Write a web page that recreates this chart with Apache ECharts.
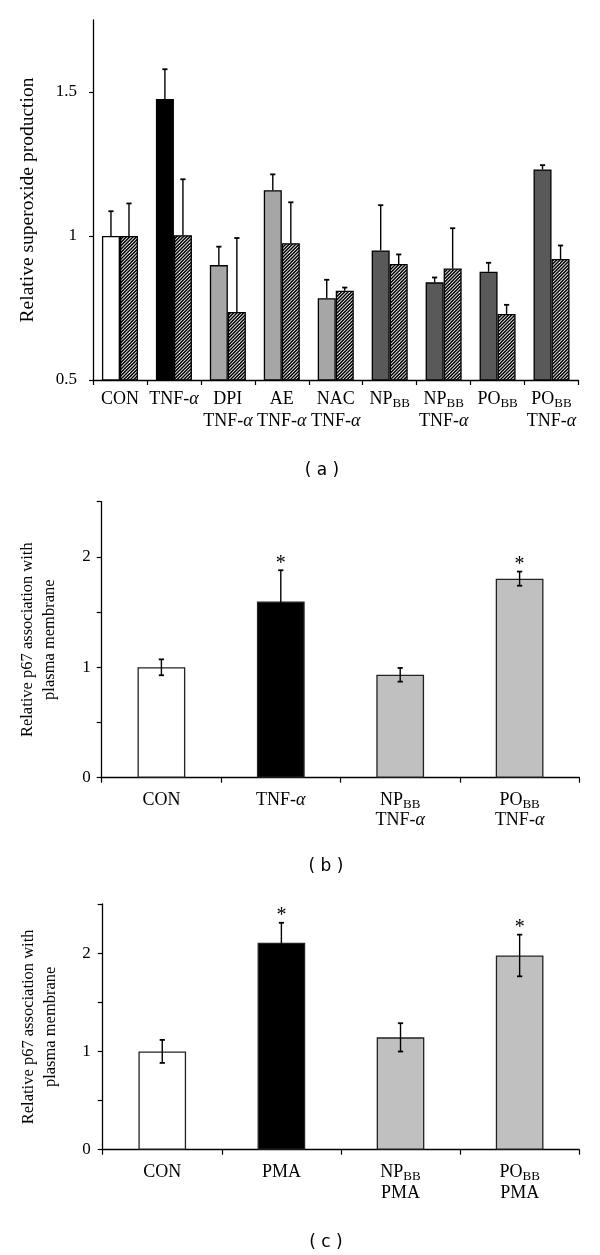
<!DOCTYPE html>
<html><head><meta charset="utf-8">
<script src="https://cdn.jsdelivr.net/npm/echarts@6/dist/echarts.min.js"></script>
<style>html,body{margin:0;padding:0;background:#fff}#c{width:600px;height:1255px}</style>
</head><body><div id="c"></div>
<script>
// ---------- data ----------
const catsA = ['CON','TNF-α','DPI\nTNF-α','AE\nTNF-α','NAC\nTNF-α','NP_BB','NP_BB\nTNF-α','PO_BB','PO_BB\nTNF-α'];
const solidA = [1.000, 1.476, 0.899, 1.159, 0.784, 0.950, 0.839, 0.876, 1.231];
const solidErrA = [0.086, 0.103, 0.064, 0.055, 0.064, 0.157, 0.017, 0.031, 0.015];
const hatchA = [1.000, 1.003, 0.736, 0.975, 0.810, 0.903, 0.887, 0.729, 0.920];
const hatchErrA = [0.113, 0.194, 0.257, 0.142, 0.011, 0.033, 0.140, 0.032, 0.047];
const ticksA = [0.5, 1, 1.5];

const catsB = ['CON','TNF-α','NP_BB\nTNF-α','PO_BB\nTNF-α'];
const valB = [1.00, 1.595, 0.932, 1.803];
const errB = [0.072, 0.284, 0.062, 0.064];
const sigB = [false, true, false, true];

const catsC = ['CON','PMA','NP_BB\nPMA','PO_BB\nPMA'];
const valC = [1.00, 2.105, 1.143, 1.976];
const errC = [0.117, 0.204, 0.144, 0.212];
const sigC = [false, true, false, true];
const ticksBC = [0, 1, 2];

// ---------- styles ----------
const colorsA = ['#ffffff','#000000','#a6a6a6','#a6a6a6','#a6a6a6','#595959','#595959','#595959','#595959'];
const colorsBC = ['#ffffff','#000000','#c0c0c0','#c0c0c0'];
const SERIF = '"Liberation Serif", "Times New Roman", serif';

function hatchPattern() {
  const s = 10, c = document.createElement('canvas');
  c.width = s; c.height = s;
  const g = c.getContext('2d');
  g.fillStyle = '#fff'; g.fillRect(0, 0, s, s);
  g.strokeStyle = '#000'; g.lineWidth = 1.5;
  const d = s / 3;
  for (let k = -1; k <= 7; k++) {
    const cc = k * d;
    g.beginPath(); g.moveTo(cc - s, s); g.lineTo(cc + s, -s); g.stroke();
  }
  // ensure lines x+y=c
  g.clearRect(0,0,0,0);
  return c;
}
function hatch2() {
  const s = 10, c = document.createElement('canvas');
  c.width = s; c.height = s;
  const g = c.getContext('2d');
  g.fillStyle = '#fff'; g.fillRect(0, 0, s, s);
  g.strokeStyle = '#000'; g.lineWidth = 1.5;
  const d = s / 3;
  for (let k = 0; k <= 6; k++) {
    const cc = k * d; // line x + y = cc
    g.beginPath(); g.moveTo(cc + 2, -2); g.lineTo(cc - s - 2, s + 2); g.stroke();
  }
  return c;
}
const hatchImg = hatch2();

function fmtCat(v) {
  return v.split('\n').map(line =>
    line.replace(/_BB/g, '{s|BB}').replace(/α/g, '{i|α}')
  ).join('\n');
}
function richFor(lh) {
  return {
    s: { fontFamily: SERIF, fontSize: 13, color: '#000', lineHeight: 14, verticalAlign: 'bottom' },
    i: { fontFamily: SERIF, fontSize: 18, fontStyle: 'italic', color: '#000', lineHeight: lh }
  };
}

function xAxisDef(gi, cats, margin, lh) {
  return {
    type: 'category', gridIndex: gi, data: cats,
    axisLine: { lineStyle: { color: '#000', width: 1.3 } },
    axisTick: { show: true, length: 5, interval: 0, lineStyle: { color: '#000', width: 1.2 } },
    axisLabel: { interval: 0, margin: margin, fontFamily: SERIF, fontSize: 18, color: '#000',
      lineHeight: lh, formatter: fmtCat, rich: richFor(lh) },
    splitLine: { show: false }
  };
}

function errSeries(xi, vals, errs, off, sym, sig) {
  return {
    type: 'custom', xAxisIndex: xi, yAxisIndex: xi, z: 5, silent: true,
    data: vals.map((v, i) => [i, v, errs[i], sig && sig[i] ? 1 : 0]),
    renderItem(params, api) {
      const i = api.value(0), v = api.value(1), e = api.value(2);
      const band = api.size([1, 0])[0];
      const top = api.coord([i, v + e]);
      const bot = api.coord([i, sym ? v - e : v]);
      const x = top[0] + band * off;
      const cap = 2.6;
      const st = { stroke: '#000', lineWidth: 1.4 };
      const ch = [
        { type: 'line', shape: { x1: x, y1: bot[1], x2: x, y2: top[1] }, style: st },
        { type: 'line', shape: { x1: x - cap, y1: top[1], x2: x + cap, y2: top[1] }, style: { stroke: '#000', lineWidth: 1.8 } }
      ];
      if (sym) ch.push({ type: 'line', shape: { x1: x - cap, y1: bot[1], x2: x + cap, y2: bot[1] }, style: { stroke: '#000', lineWidth: 1.8 } });
      if (api.value(3)) ch.push({ type: 'text', style: { text: '*', x: x, y: top[1] + 3, textAlign: 'center', textVerticalAlign: 'bottom', fontFamily: SERIF, fontSize: 20, fill: '#000' } });
      return { type: 'group', children: ch };
    }
  };
}

const chart = echarts.init(document.getElementById('c'), null, { renderer: 'canvas' });
const yName = { fontFamily: SERIF, color: '#000' };

chart.setOption({
  animation: false,
  backgroundColor: '#fff',
  grid: [
    { left: 93, top: 20, width: 485.5, height: 360 },
    { left: 101.7, top: 501.7, width: 477.6, height: 276 },
    { left: 102.7, top: 904, width: 476.5, height: 245.7 }
  ],
  xAxis: [
    xAxisDef(0, catsA, 8, 22),
    xAxisDef(1, catsB, 13, 20),
    xAxisDef(2, catsC, 12, 21)
  ],
  yAxis: [
    { type: 'value', gridIndex: 0, min: 0.5, max: 1.75, interval: 0.5,
      name: 'Relative superoxide production', nameLocation: 'middle', nameRotate: 90, nameGap: 55,
      nameTextStyle: Object.assign({ fontSize: 19.5 }, yName),
      axisLine: { show: true, lineStyle: { color: '#000', width: 1.3 } },
      axisTick: { show: true, length: 4, customValues: ticksA, lineStyle: { color: '#000', width: 1.2 } },
      axisLabel: { customValues: ticksA, margin: 16, fontFamily: SERIF, fontSize: 17, color: '#000' },
      splitLine: { show: false } },
    { type: 'value', gridIndex: 1, min: 0, max: 2.5, interval: 0.5,
      name: 'Relative p67 association with\nplasma membrane', nameLocation: 'middle', nameRotate: 90, nameGap: 41,
      nameTextStyle: Object.assign({ fontSize: 16.5, lineHeight: 22 }, yName),
      axisLine: { show: true, lineStyle: { color: '#000', width: 1.3 } },
      axisTick: { show: true, length: 5, lineStyle: { color: '#000', width: 1.2 } },
      axisLabel: { customValues: ticksBC, margin: 11, fontFamily: SERIF, fontSize: 17, color: '#000' },
      splitLine: { show: false } },
    { type: 'value', gridIndex: 2, min: 0, max: 2.5, interval: 0.5,
      name: 'Relative p67 association with\nplasma membrane', nameLocation: 'middle', nameRotate: 90, nameGap: 41,
      nameTextStyle: Object.assign({ fontSize: 16.5, lineHeight: 22 }, yName),
      axisLine: { show: true, lineStyle: { color: '#000', width: 1.3 } },
      axisTick: { show: true, length: 5, lineStyle: { color: '#000', width: 1.2 } },
      axisLabel: { customValues: ticksBC, margin: 12, fontFamily: SERIF, fontSize: 17, color: '#000' },
      splitLine: { show: false } }
  ],
  series: [
    { type: 'bar', xAxisIndex: 0, yAxisIndex: 0, barWidth: '33.4%', barGap: '0%',
      data: solidA.map((v, i) => ({ value: v, itemStyle: { color: colorsA[i] } })),
      itemStyle: { borderColor: '#000', borderWidth: 1.3 } },
    { type: 'bar', xAxisIndex: 0, yAxisIndex: 0, barWidth: '33.4%', barGap: '0%',
      data: hatchA,
      itemStyle: { color: { image: hatchImg, repeat: 'repeat' }, borderColor: '#000', borderWidth: 1.3 } },
    errSeries(0, solidA, solidErrA, -0.167, false, null),
    errSeries(0, hatchA, hatchErrA, 0.167, false, null),

    { type: 'bar', xAxisIndex: 1, yAxisIndex: 1, barWidth: '40%',
      data: valB.map((v, i) => ({ value: v, itemStyle: { color: colorsBC[i] } })),
      itemStyle: { borderColor: '#222', borderWidth: 1.3 } },
    errSeries(1, valB, errB, 0, true, sigB),

    { type: 'bar', xAxisIndex: 2, yAxisIndex: 2, barWidth: '40%',
      data: valC.map((v, i) => ({ value: v, itemStyle: { color: colorsBC[i] } })),
      itemStyle: { borderColor: '#222', borderWidth: 1.3 } },
    errSeries(2, valC, errC, 0, true, sigC)
  ],
  graphic: [
    { type: 'text', x: 322, y: 471, style: { text: '( a )', textAlign: 'center', textVerticalAlign: 'middle', fontFamily: '"DejaVu Sans", sans-serif', fontSize: 17, fill: '#000' } },
    { type: 'text', x: 326, y: 867, style: { text: '( b )', textAlign: 'center', textVerticalAlign: 'middle', fontFamily: '"DejaVu Sans", sans-serif', fontSize: 17, fill: '#000' } },
    { type: 'text', x: 326, y: 1243, style: { text: '( c )', textAlign: 'center', textVerticalAlign: 'middle', fontFamily: '"DejaVu Sans", sans-serif', fontSize: 17, fill: '#000' } }
  ]
});
</script>
</body></html>
